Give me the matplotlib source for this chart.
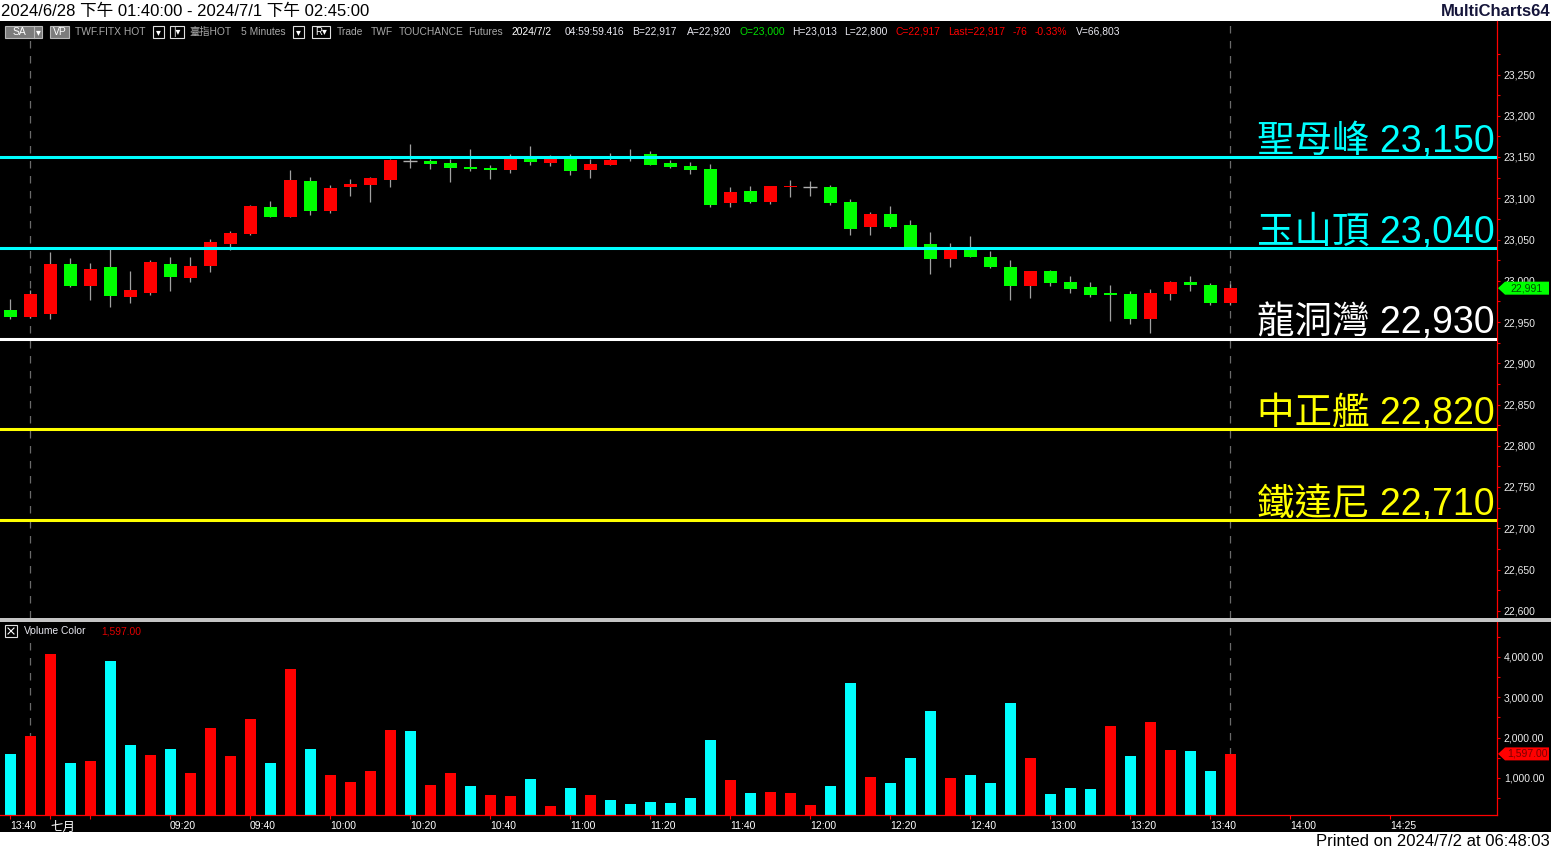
import matplotlib
matplotlib.use('Agg')
import matplotlib.pyplot as plt
from matplotlib.patches import Rectangle, Polygon
from matplotlib.lines import Line2D
import numpy as np

plt.rcParams['font.family'] = ['Liberation Sans', 'Noto Sans CJK TC', 'DejaVu Sans']

# ---------------- data ----------------
opens = [22965, 22956, 22960, 23020, 22994, 23017, 22980, 22985, 23020, 23003,
         23018, 23045, 23057, 23089, 23077, 23121, 23085, 23114, 23116, 23122,
         23145, 23145, 23143, 23138, 23137, 23134, 23150, 23143, 23149, 23134,
         23140, 23150, 23154, 23143, 23139, 23135, 23094, 23109, 23095, 23114,
         23114, 23114, 23095, 23065, 23081, 23068, 23045, 23026, 23037, 23029,
         23017, 22994, 23012, 22998, 22992, 22985, 22984, 22954, 22984, 22998,
         22995, 22973]
highs = [22978, 22989, 23035, 23028, 23022, 23039, 23012, 23025, 23029, 23029,
         23051, 23060, 23092, 23097, 23134, 23126, 23116, 23123, 23126, 23148,
         23166, 23148, 23148, 23160, 23140, 23154, 23163, 23152, 23154, 23148,
         23155, 23160, 23157, 23146, 23144, 23141, 23114, 23115, 23115, 23122,
         23121, 23116, 23099, 23083, 23091, 23074, 23059, 23046, 23054, 23036,
         23025, 23012, 23013, 23006, 22998, 22995, 22988, 22990, 23000, 23006,
         22997, 22996]
lows = [22954, 22955, 22954, 22993, 22977, 22968, 22973, 22983, 22988, 22998,
        23011, 23037, 23056, 23077, 23077, 23080, 23082, 23103, 23095, 23114,
        23137, 23135, 23120, 23133, 23123, 23131, 23140, 23139, 23128, 23125,
        23140, 23145, 23140, 23137, 23129, 23089, 23089, 23094, 23093, 23101,
        23103, 23092, 23055, 23055, 23064, 23040, 23008, 23017, 23029, 23015,
        22977, 22979, 22994, 22985, 22980, 22951, 22948, 22937, 22977, 22988,
        22971, 22971]
closes = [22956, 22984, 23020, 22994, 23014, 22982, 22989, 23023, 23005, 23018,
          23047, 23058, 23091, 23077, 23122, 23085, 23112, 23117, 23125, 23146,
          23145, 23141, 23137, 23135, 23134, 23148, 23144, 23148, 23133, 23142,
          23146, 23150, 23140, 23138, 23134, 23092, 23108, 23095, 23115, 23115,
          23114, 23094, 23063, 23081, 23065, 23041, 23026, 23037, 23029, 23017,
          22994, 23012, 22997, 22990, 22983, 22983, 22954, 22985, 22998, 22995,
          22973, 22991]
volumes = [1594, 2045, 4079, 1371, 1421, 3900, 1817, 1569, 1718, 1123,
           2239, 1545, 2462, 1371, 3702, 1718, 1074, 900, 1173, 2190,
           2165, 826, 1123, 801, 578, 553, 975, 305, 751, 578,
           454, 355, 404, 380, 504, 1941, 950, 627, 652, 627,
           330, 801, 3355, 1024, 876, 1495, 2661, 999, 1074, 876,
           2860, 1495, 603, 751, 727, 2289, 1545, 2389, 1694, 1669,
           1173, 1597]
vol_dir = list("crrcrccrcrrrrcrcrrrrcrrcrrcrcrccccccrcrrrcc" "rcccrcccrcccrcrrccr")

level_values = [23150, 23040, 22930, 22820, 22710]
level_names = ['聖母峰', '玉山頂', '龍洞灣', '中正艦', '鐵達尼']
level_colors = ['#00ffff', '#00ffff', '#ffffff', '#ffff00', '#ffff00']

xtick_idx = [0, 2, 4, 8, 12, 16, 20, 24, 28, 32, 36, 40, 44, 48, 52, 56, 60, 64, 69]
xtick_lab = ['13:40', '七月', '', '09:20', '09:40', '10:00', '10:20', '10:40', '11:00',
             '11:20', '11:40', '12:00', '12:20', '12:40', '13:00', '13:20', '13:40',
             '14:00', '14:25']
session_marks = [1, 61]

# ---------------- figure ----------------
W, H = 1551, 851
fig = plt.figure(figsize=(W / 100, H / 100), dpi=100, facecolor='white')


def fx(x):
    return x / W


def fy(y):
    return 1 - y / H


fig.patches.append(Rectangle((0, fy(832)), 1, (832 - 21) / H, transform=fig.transFigure,
                             facecolor='black', edgecolor='none', zorder=-5))

ax = fig.add_axes([0, fy(618), fx(1497), (618 - 21) / H])
ax2 = fig.add_axes([0, fy(815), fx(1497), (815 - 622) / H])
for a in (ax, ax2):
    a.set_facecolor('black')
    a.set_zorder(1)
    for s in a.spines.values():
        s.set_visible(False)
    a.spines['right'].set_visible(True)
    a.spines['right'].set_color('red')
    a.spines['right'].set_linewidth(0.9)
    a.set_xlim(-0.5, 74.35)

ax2.spines['bottom'].set_visible(True)
ax2.spines['bottom'].set_color('red')
ax2.spines['bottom'].set_linewidth(0.9)

ppp = 0.825  # pixels per point
ax.set_ylim(23150 - (618 - 157) / ppp, 23150 + (157 - 21) / ppp)

idx = np.arange(len(opens))
o = np.array(opens); c = np.array(closes); hi = np.array(highs); lo = np.array(lows)

# wicks
ax.vlines(idx, lo, hi, color='#a0a0a0', lw=0.9, zorder=2)
# bodies
bw = 0.65
for i in idx:
    if c[i] > o[i]:
        col = '#ff0000'
    elif c[i] < o[i]:
        col = '#00ff00'
    else:
        col = None
    if col is None:
        ax.hlines(o[i], i - 0.36, i + 0.36, color='#b0b0b0', lw=1.0, zorder=3)
    else:
        b = min(o[i], c[i])
        h = max(abs(c[i] - o[i]), 1.4)
        ax.bar(i, h, bottom=b, width=bw, color=col, lw=0, zorder=3)

# session separators
for s in session_marks:
    for a in (ax, ax2):
        a.axvline(s, color='#6a6a6a', lw=0.9, ls=(0, (6, 6)), zorder=1)

# level lines and labels
for v, n, col in zip(level_values, level_names, level_colors):
    ax.axhline(v, color=col, lw=2.2, zorder=4)
    ax.text(74.25, v + 5 / ppp, f'{n} {v:,}', color=col, fontsize=27,
            ha='right', va='baseline', zorder=5)

# price axis ticks
ax.yaxis.tick_right()
ax.set_yticks(np.arange(22600, 23251, 50))
ax.set_yticks(np.arange(22625, 23300, 50), minor=True)
ax.set_yticklabels([f'{t:,}' for t in np.arange(22600, 23251, 50)])
ax.tick_params(axis='y', which='both', colors='red', labelcolor='#ececec', length=2.4,
               width=0.8, pad=2.5, labelsize=7.5)
ax.tick_params(axis='x', which='both', bottom=False, labelbottom=False)

# volume
vcol = ['#00ffff' if d == 'c' else '#ff0000' for d in vol_dir]
ax2.bar(idx, volumes, width=0.55, color=vcol, lw=0, zorder=2)
vpp = 0.04033
ax2.set_ylim((818.3 - 815) / vpp, (818.3 - 622) / vpp)
ax2.yaxis.tick_right()
ax2.set_yticks([1000, 2000, 3000, 4000])
ax2.set_yticks([500, 1500, 2500, 3500, 4500], minor=True)
ax2.set_yticklabels([f'{t:,.2f}' for t in [1000, 2000, 3000, 4000]])
ax2.tick_params(axis='y', which='both', colors='red', labelcolor='#ececec', length=2.4,
                width=0.8, pad=2.5, labelsize=7.5)
ax2.set_xticks(xtick_idx)
ax2.set_xticklabels(xtick_lab)
ax2.tick_params(axis='x', colors='red', labelcolor='white', length=2.6, width=0.8,
                pad=2.0, labelsize=7.5)
for k, lab in enumerate(ax2.get_xticklabels()):
    lab.set_horizontalalignment('left')
    if xtick_lab[k] == '七月':
        lab.set_fontsize(9)

# separator between panels
fig.patches.append(Rectangle((0, fy(621.5)), 1, 3.5 / H, transform=fig.transFigure,
                             facecolor='#c4c4c4', edgecolor='none', zorder=6))

# ---------------- markers on the axis ----------------
def axis_marker(a, val, text, face, tcol):
    yd = a.transData.transform((0, val))[1]
    yt = H - yd
    pts = [(1498, yt), (1505, yt - 6.5), (1549, yt - 6.5), (1549, yt + 6.5), (1505, yt + 6.5)]
    fig.patches.append(Polygon([(fx(x), fy(y)) for x, y in pts], closed=True,
                               transform=fig.transFigure, facecolor=face,
                               edgecolor='none', zorder=10))
    fig.text(fx(1527), fy(yt), text, ha='center', va='center', fontsize=7.5,
             color=tcol, zorder=11)


axis_marker(ax, closes[-1], f'{closes[-1]:,}', '#00ff00', '#005000')
axis_marker(ax2, volumes[-1], f'{volumes[-1]:,.2f}', '#ff0000', '#7a0000')

# ---------------- header strip texts ----------------
fig.text(fx(1), fy(11), '2024/6/28 下午 01:40:00 - 2024/7/1 下午 02:45:00',
         ha='left', va='center', fontsize=12, color='black')
fig.text(fx(1550), fy(11), 'MultiCharts64', ha='right', va='center', fontsize=12,
         fontweight='bold', color='#15153a')
fig.text(fx(1550), fy(842), 'Printed on 2024/7/2 at 06:48:03', ha='right', va='center',
         fontsize=12, color='black')


def box(x0, x1, y0, y1, face, edge):
    fig.patches.append(Rectangle((fx(x0), fy(y1)), (x1 - x0) / W, (y1 - y0) / H,
                                 transform=fig.transFigure, facecolor=face,
                                 edgecolor=edge, lw=0.8, zorder=8))


yl = 32
box(5, 42, 26, 38, '#7c7c7c', '#b8b8b8')
fig.add_artist(Line2D([fx(33.5), fx(33.5)], [fy(26), fy(38)], color='#b8b8b8', lw=0.8, zorder=9))
fig.text(fx(19), fy(yl), 'SA', ha='center', va='center', fontsize=7.5, color='white', zorder=9)
fig.text(fx(38), fy(yl), '▾', ha='center', va='center', fontsize=7, color='white', zorder=9)
box(50, 69, 26, 38, '#7c7c7c', '#b8b8b8')
fig.text(fx(59.5), fy(yl), 'VP', ha='center', va='center', fontsize=7.5, color='white', zorder=9)
for (x0, x1, t) in [(153, 164, '▾'), (170, 184, '|▾'), (293, 304, '▾'), (312, 330, 'R▾')]:
    box(x0, x1, 26, 38, 'black', '#e0e0e0')
    fig.text(fx((x0 + x1) / 2), fy(yl), t, ha='center', va='center', fontsize=7,
             color='white', zorder=9)

info = [(75, 'TWF.FITX HOT', '#a8a8a8'), (189, '臺指HOT', '#a8a8a8'),
        (241, '5 Minutes', '#a8a8a8'), (337, 'Trade', '#a8a8a8'), (371, 'TWF', '#a8a8a8'),
        (399, 'TOUCHANCE', '#a8a8a8'), (468, 'Futures', '#a8a8a8'),
        (511, '2024/7/2', '#ffffff'), (565, '04:59:59.416', '#e8e8f0'),
        (632, 'B=22,917', '#e8e8f0'), (687, 'A=22,920', '#e8e8f0'),
        (740, 'O=23,000', '#00e000'), (792, 'H=23,013', '#e8e8f0'),
        (844, 'L=22,800', '#e8e8f0'), (896, 'C=22,917', '#ff0000'),
        (948, 'Last=22,917', '#ff0000'), (1013, '-76', '#ff0000'),
        (1035, '-0.33%', '#ff0000'), (1076, 'V=66,803', '#e8e8f0')]
for x, t, col in info:
    fig.text(fx(x), fy(yl), t, ha='left', va='center', fontsize=7.4, color=col, zorder=9)

# volume panel title
box(5, 17, 625, 637, 'black', '#e0e0e0')
fig.add_artist(Line2D([fx(8), fx(14)], [fy(628), fy(634)], color='white', lw=0.8, zorder=9))
fig.add_artist(Line2D([fx(8), fx(14)], [fy(634), fy(628)], color='white', lw=0.8, zorder=9))
fig.text(fx(24), fy(631), 'Volume Color', ha='left', va='center', fontsize=7.4,
         color='#e8e8f0', zorder=9)
fig.text(fx(101), fy(631), f'{volumes[-1]:,.2f}', ha='left', va='center', fontsize=7.4,
         color='#e00000', zorder=9)

fig.savefig('out.png', dpi=100, facecolor='white')
